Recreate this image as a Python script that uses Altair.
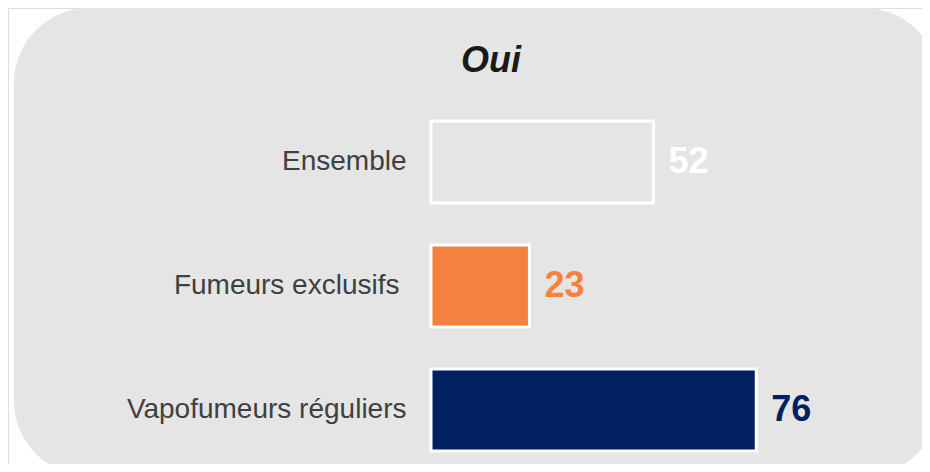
import altair as alt
import pandas as pd

categories = ["Ensemble", "Fumeurs exclusifs", "Vapofumeurs réguliers"]
values = [52, 23, 76]
bar_colors = ["#e5e5e5", "#f5813f", "#002060"]
label_colors = ["#ffffff", "#f5813f", "#002060"]

df = pd.DataFrame({"cat": categories, "val": values, "fill": bar_colors, "lab": label_colors})

W, H = 914, 456
X0 = 423          # pixel position of zero inside the view
PX = 4.28         # pixels per unit
domain = [-X0 / PX, (W - X0) / PX]
BG = "#e5e5e5"
FONT = "Liberation Sans"

x_scale = alt.Scale(domain=domain, nice=False, zero=False)
y_enc = alt.Y(
    "cat:N",
    sort=categories,
    scale=alt.Scale(paddingInner=0.339, paddingOuter=0.508, align=0.897),
    axis=alt.Axis(
        title=None, orient="left", offset=-X0, domain=False, ticks=False,
        labelPadding=25, labelFontSize=28, labelFont=FONT, labelColor="#404040",
        labelLimit=500, zindex=2,
        labelExpr="datum.value == 'Fumeurs exclusifs' ? datum.value + '\u2005\u200b' : datum.value",
    ),
)

bg = alt.Chart(alt.Data(values=[{}])).mark_rect(
    cornerRadius=75, color=BG
).encode(
    x=alt.value(6), x2=alt.value(931), y=alt.value(0), y2=alt.value(468)
)

bars = alt.Chart(df).mark_bar(stroke="white", strokeWidth=3).encode(
    x=alt.X("val:Q", scale=x_scale, axis=None),
    x2=alt.datum(0),
    y=y_enc,
    color=alt.Color("fill:N", scale=None),
)

text = alt.Chart(df).mark_text(
    align="left", baseline="middle", dx=15, fontSize=36, fontWeight="bold", font=FONT
).encode(
    x=alt.X("val:Q", scale=x_scale, axis=None),
    y=alt.Y("cat:N", sort=categories),
    text=alt.Text("val:Q"),
    color=alt.Color("lab:N", scale=None),
)

chart = alt.layer(bg, bars, text).properties(
    width=W, height=H,
    padding=0,
    autosize=alt.AutoSizeParams(type="none"),
    title=alt.TitleParams(
        text="Oui", fontSize=36, font=FONT, fontStyle="italic", fontWeight="bold",
        color="#1a1a1a", anchor="middle", frame="group", dx=26, offset=-100,
        baseline="alphabetic", zindex=2,
    ),
).configure_view(stroke="transparent", fill="transparent").configure(background="transparent")

chart.save("out.html", embed_options={"renderer": "svg", "actions": False})
